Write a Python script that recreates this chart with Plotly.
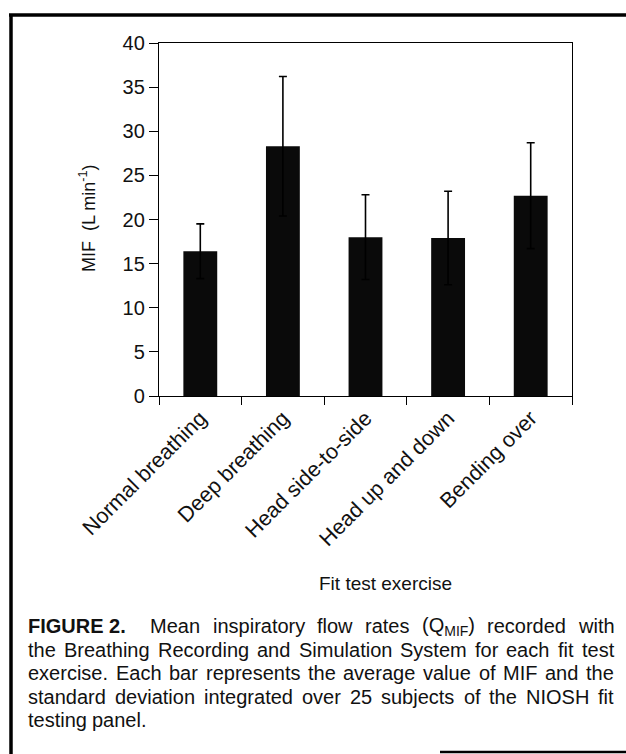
import plotly.graph_objects as go

# ---------------- data ----------------
categories = ["Normal breathing", "Deep breathing", "Head side-to-side",
              "Head up and down", "Bending over"]
mif_mean = [16.4, 28.3, 18.0, 17.9, 22.7]
mif_sd = [3.1, 7.9, 4.8, 5.3, 6.0]
y_ticks = [0, 5, 10, 15, 20, 25, 30, 35, 40]
y_title = "MIF\u00a0\u00a0(L min<sup>-1</sup>)"
x_title = "Fit test exercise"
caption_lines = [
    ["<b>FIGURE 2.</b>", "Mean", "inspiratory", "flow", "rates", "(Q<sub>MIF</sub>)", "recorded", "with"],
    ["the", "Breathing", "Recording", "and", "Simulation", "System", "for", "each", "fit", "test"],
    ["exercise.", "Each", "bar", "represents", "the", "average", "value", "of", "MIF", "and", "the"],
    ["standard", "deviation", "integrated", "over", "25", "subjects", "of", "the", "NIOSH", "fit"],
    ["testing", "panel."],
]

# ---------------- geometry ----------------
W, H = 626, 754
L, R, T, B = 159, 572, 43, 396
FONT = "Liberation Sans, Arial, Helvetica, sans-serif"


def px(x):
    return (x - L) / (R - L)


def py(y):
    return (B - y) / (B - T)


# Arial / Liberation Sans advance widths (1/1000 em)
CW = {' ': 278, 'a': 556, 'b': 556, 'c': 500, 'd': 556, 'e': 556, 'f': 278, 'g': 556,
      'h': 556, 'i': 222, 'j': 222, 'k': 500, 'l': 222, 'm': 833, 'n': 556, 'o': 556,
      'p': 556, 'q': 556, 'r': 333, 's': 500, 't': 278, 'u': 556, 'v': 500, 'w': 722,
      'x': 500, 'y': 500, 'z': 500, 'A': 667, 'B': 667, 'C': 722, 'D': 722, 'E': 667,
      'F': 611, 'G': 778, 'H': 722, 'I': 278, 'J': 500, 'K': 667, 'L': 556, 'M': 833,
      'N': 722, 'O': 778, 'P': 667, 'Q': 778, 'R': 722, 'S': 667, 'T': 611, 'U': 722,
      'V': 667, 'W': 944, 'X': 667, 'Y': 667, 'Z': 611, '.': 278, ',': 278, '(': 333,
      ')': 333, '-': 333}
for d in "0123456789":
    CW[d] = 556


def text_width(word, size):
    import re
    w = 0.0
    parts = re.split(r"(<sub>.*?</sub>)", word)
    for p in parts:
        if p.startswith("<sub>"):
            inner = p[5:-6]
            w += 0.7 * sum(CW.get(c, 556) for c in inner)
        else:
            clean = re.sub(r"<.*?>", "", p)
            w += sum(CW.get(c, 556) for c in clean)
    return w * size / 1000.0


# ---------------- figure ----------------
fig = go.Figure()
fig.add_trace(go.Bar(
    x=categories, y=mif_mean,
    marker=dict(color="#0a0a0a", line=dict(width=0)),
    error_y=dict(type="data", array=mif_sd, visible=True, color="#000000",
                 thickness=1.6, width=4),
    width=0.41,
))

annotations = []
shapes = []

# y-axis title
annotations.append(dict(x=px(87), y=py(218), xref="paper", yref="paper",
                        text=y_title, showarrow=False, textangle=-90,
                        font=dict(family=FONT, size=18, color="#111"),
                        xanchor="center", yanchor="middle"))
# x-axis title
annotations.append(dict(x=px(385), y=py(583), xref="paper", yref="paper",
                        text=x_title, showarrow=False,
                        font=dict(family=FONT, size=19, color="#111"),
                        xanchor="center", yanchor="middle"))

# caption, justified word by word
cap_size = 20
cap_left, cap_right = 27, 613
cap_y = [626, 650, 673, 697, 720]
for li, words in enumerate(caption_lines):
    widths = [text_width(w.replace("<b>", "").replace("</b>", ""), cap_size) for w in words]
    nat_space = CW[' '] * cap_size / 1000.0
    weights = [2.0 if (li == 0 and i == 0) else 1.0 for i in range(len(words) - 1)]
    if li < len(caption_lines) - 1:
        gap = (cap_right - cap_left - sum(widths)) / sum(weights)
    else:
        gap = nat_space
    x = cap_left
    for i, w in enumerate(words):
        annotations.append(dict(x=px(x), y=py(cap_y[li]), xref="paper", yref="paper",
                                text=w, showarrow=False, xanchor="left", yanchor="middle",
                                borderpad=0,
                                font=dict(family=FONT, size=cap_size, color="#111")))
        if i < len(words) - 1:
            x += widths[i] + gap * weights[i]

# outer frame (figure border, as in the scanned page)
frame = dict(color="#000", width=3.5)
shapes.append(dict(type="line", xref="paper", yref="paper",
                   x0=px(9), x1=px(626), y0=py(15), y1=py(15), line=frame))
shapes.append(dict(type="line", xref="paper", yref="paper",
                   x0=px(11), x1=px(11), y0=py(14), y1=py(754), line=frame))
shapes.append(dict(type="line", xref="paper", yref="paper",
                   x0=px(440), x1=px(626), y0=py(752), y1=py(752),
                   line=dict(color="#000", width=2.5)))

fig.update_layout(
    width=W, height=H,
    margin=dict(l=L, r=W - R, t=T, b=H - B, autoexpand=False),
    paper_bgcolor="white", plot_bgcolor="white",
    showlegend=False,
    bargap=0.59,
    font=dict(family=FONT, color="#111"),
    annotations=annotations,
    shapes=shapes,
)
fig.update_xaxes(
    type="category", showline=True, linecolor="#000", linewidth=1.3,
    mirror=True, ticks="outside", tickson="boundaries", ticklen=8,
    tickcolor="#000", tickwidth=1.2, tickangle=-45,
    tickfont=dict(family=FONT, size=21.5, color="#111"),
    showgrid=False, automargin=False,
)
fig.update_yaxes(
    range=[0, 40], tickvals=y_ticks, ticktext=[str(v) for v in y_ticks],
    showline=True, linecolor="#000", linewidth=1.3, mirror=True,
    ticks="outside", ticklen=9, tickcolor="#000", tickwidth=1.2,
    tickfont=dict(family=FONT, size=20, color="#111"),
    showgrid=False, zeroline=False, automargin=False,
)

fig.write_html("out.html",
               config={"displayModeBar": False},
               post_script="document.body.style.margin='0px';"
                           "document.body.style.overflow='hidden';")
